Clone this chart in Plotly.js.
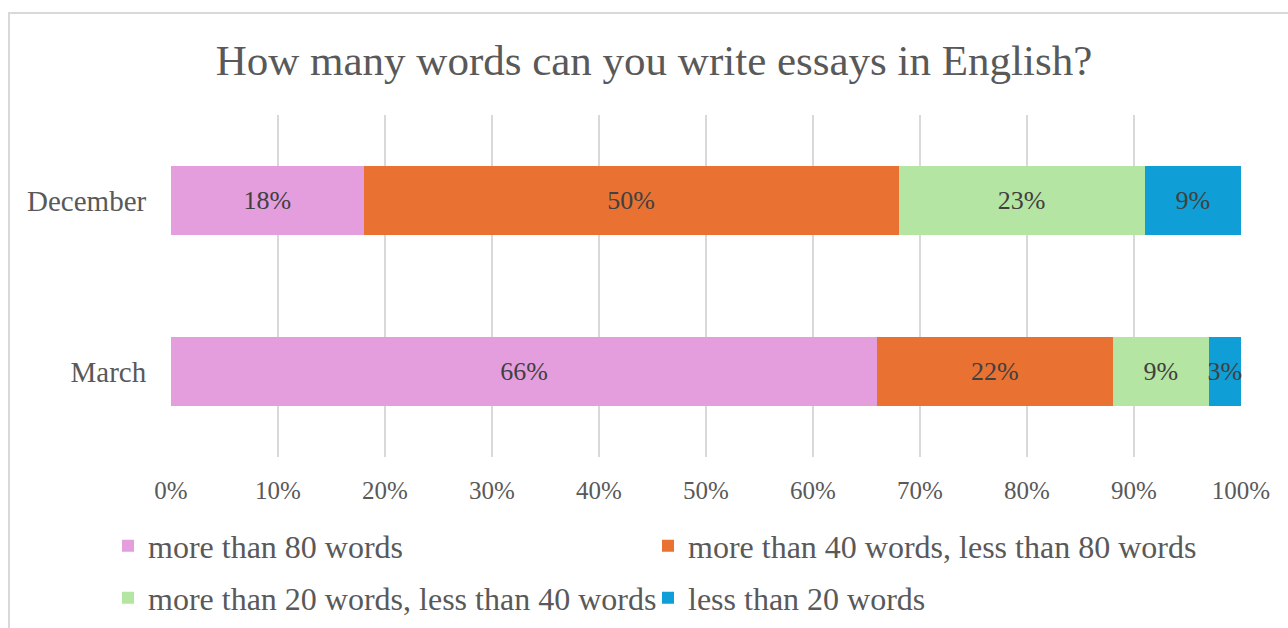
<!DOCTYPE html>
<html>
<head>
<meta charset="utf-8">
<script src="https://cdn.plot.ly/plotly-3.0.1.min.js"></script>
<style>
  html, body { margin: 0; padding: 0; background: #ffffff; }
  #wrap { position: relative; width: 1288px; height: 628px; overflow: hidden; }
  #chart { position: absolute; left: 0; top: 0; width: 1288px; height: 628px; }
  #frame { position: absolute; left: 8px; top: 12px; width: 1300px; height: 700px;
           border: 2px solid #d9d9d9; box-sizing: border-box; pointer-events: none; }
</style>
</head>
<body>
<div id="wrap">
  <div id="chart"></div>
  <div id="frame"></div>
</div>
<script>
const categories = ["March", "December"];
const seriesNames = [
  "more than 80 words",
  "more than 40 words, less than 80 words",
  "more than 20 words, less than 40 words",
  "less than 20 words"
];
const more80 = [66, 18];
const from40to80 = [22, 50];
const from20to40 = [9, 23];
const less20 = [3, 9];
const seriesColors = ["#E49EDD", "#E97132", "#B4E5A2", "#0F9ED5"];
const xTickVals = [0, 10, 20, 30, 40, 50, 60, 70, 80, 90, 100];
const xTickText = ["0%", "10%", "20%", "30%", "40%", "50%", "60%", "70%", "80%", "90%", "100%"];
const titleText = "How many words can you write essays in English?";

const FONT = "Liberation Serif, Times New Roman, serif";
const seriesValues = [more80, from40to80, from20to40, less20];
const legendIds = ["legend", "legend2", "legend3", "legend4"];

const traces = seriesValues.map((vals, i) => ({
  type: "bar",
  orientation: "h",
  name: seriesNames[i],
  y: categories,
  x: vals,
  width: 0.4,
  marker: { color: seriesColors[i], line: { width: 0 } },
  text: vals.map(v => v + "%"),
  texttemplate: "%{text}",
  textposition: "inside",
  insidetextanchor: "middle",
  textangle: 0,
  constraintext: "none",
  cliponaxis: false,
  textfont: { family: FONT, size: 26, color: "#404040" },
  hoverinfo: "skip",
  legend: legendIds[i]
}));

// plot area: x 171..1241 px, y 115..457 px
function legendAt(px, py) {
  return {
    orientation: "h",
    x: (px - 171) / 1070, xanchor: "left",
    y: -(py - 457) / 342, yanchor: "middle",
    font: { family: FONT, size: 32, color: "#595959" },
    bgcolor: "rgba(0,0,0,0)",
    borderwidth: 0
  };
}

const layout = {
  width: 1288,
  height: 628,
  margin: { l: 171, r: 47, t: 115, b: 171, pad: 0, autoexpand: false },
  paper_bgcolor: "rgba(0,0,0,0)",
  plot_bgcolor: "rgba(0,0,0,0)",
  barmode: "stack",
  font: { family: FONT, color: "#595959" },
  title: {
    text: titleText,
    font: { family: FONT, size: 43, color: "#595959" },
    x: 654 / 1288, xanchor: "center", xref: "container",
    y: 1 - 60 / 628, yanchor: "middle", yref: "container"
  },
  xaxis: {
    range: [0, 100],
    tickvals: xTickVals,
    ticktext: xTickText,
    showgrid: true,
    gridcolor: "#d9d9d9",
    gridwidth: 1.5,
    zeroline: false,
    showline: false,
    ticks: "outside",
    ticklen: 11,
    tickcolor: "rgba(0,0,0,0)",
    tickfont: { family: FONT, size: 25, color: "#595959" },
    fixedrange: true,
    automargin: false
  },
  yaxis: {
    type: "category",
    categoryarray: categories,
    range: [-0.5, 1.5],
    showgrid: false,
    zeroline: false,
    showline: false,
    ticks: "outside",
    ticklen: 18,
    tickcolor: "rgba(0,0,0,0)",
    tickfont: { family: FONT, size: 29, color: "#595959" },
    fixedrange: true,
    automargin: false
  },
  showlegend: true,
  legend: legendAt(108, 546),
  legend2: legendAt(648, 546),
  legend3: legendAt(108, 598),
  legend4: legendAt(648, 598)
};

Plotly.newPlot("chart", traces, layout, { staticPlot: true, displayModeBar: false });
</script>
</body>
</html>
